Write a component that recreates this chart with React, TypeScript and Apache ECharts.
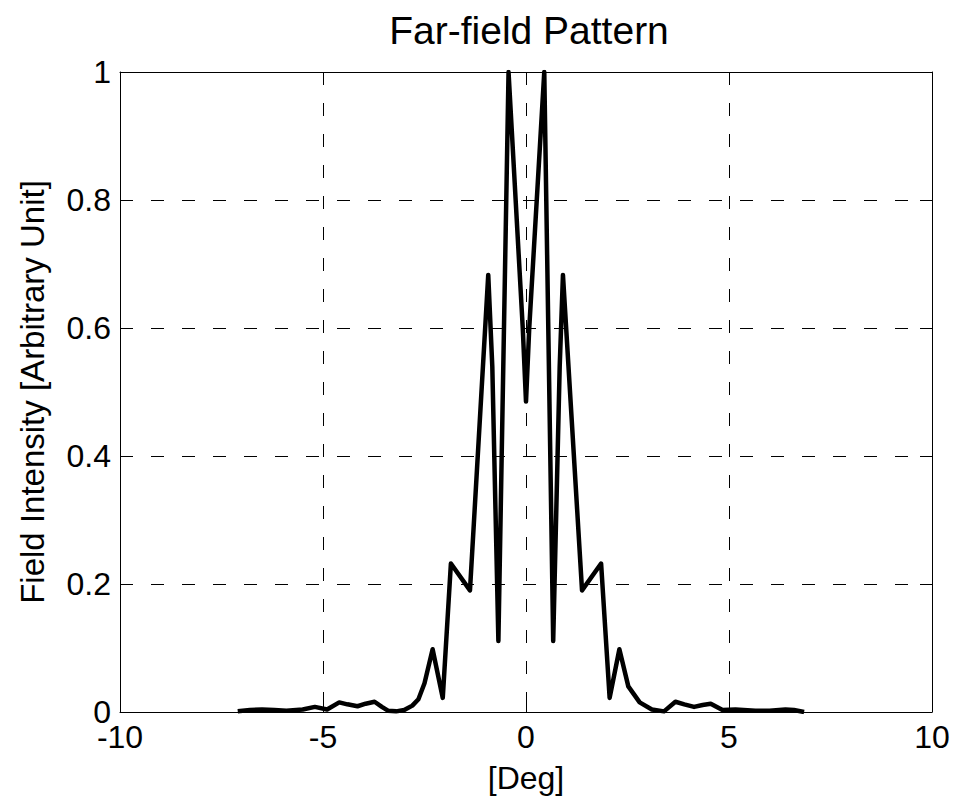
import React, { useEffect, useRef } from "react";
import * as echarts from "echarts";

const TITLE = "Far-field Pattern";
const X_NAME = "[Deg]";
const Y_NAME = "Field Intensity [Arbitrary Unit]";

const degrees = [
  -7.1, -6.8, -6.5, -6.2, -5.9, -5.5, -5.2, -4.9, -4.6, -4.4, -4.15, -3.95,
  -3.73, -3.55, -3.4, -3.2, -3.0, -2.8, -2.65, -2.5, -2.3, -2.05, -1.85,
  -1.38, -0.93, -0.83, -0.68, -0.43, -0.08, 0, 0.08, 0.45, 0.67, 0.83, 0.91,
  1.38, 1.85, 2.06, 2.3, 2.52, 2.8, 3.1, 3.4, 3.68, 3.9, 4.14, 4.35, 4.55,
  4.84, 5.16, 5.65, 6.0, 6.39, 6.6, 6.85,
];

const intensity = [
  0.001, 0.003, 0.004, 0.003, 0.002, 0.004, 0.008, 0.004, 0.015, 0.012,
  0.009, 0.013, 0.016, 0.008, 0.002, 0.001, 0.003, 0.01, 0.02, 0.045, 0.098,
  0.022, 0.232, 0.19, 0.683, 0.54, 0.111, 1.0, 0.6, 0.485, 0.6, 1.0, 0.111,
  0.54, 0.683, 0.19, 0.232, 0.022, 0.098, 0.04, 0.015, 0.004, 0.001, 0.016,
  0.012, 0.008, 0.011, 0.013, 0.003, 0.004, 0.002, 0.002, 0.004, 0.003, 0.0,
];

const FONT = "'Liberation Sans', Arial, sans-serif";

export default function App() {
  const ref = useRef<HTMLDivElement>(null);

  useEffect(() => {
    if (!ref.current) return;
    const chart = echarts.init(ref.current, undefined, { renderer: "svg" });
    const points = degrees.map((d, i) => [d, intensity[i]]);
    const splitLine = {
      show: true,
      lineStyle: { color: "#000", width: 1, type: [13, 18] as any },
    };
    const axisLine = {
      show: true,
      onZero: false,
      lineStyle: { color: "#000", width: 1 },
    };
    const axisTick = {
      show: true,
      inside: true,
      length: 12,
      lineStyle: { color: "#000", width: 1 },
    };
    chart.setOption({
      animation: false,
      backgroundColor: "#fff",
      title: {
        text: TITLE,
        left: 524,
        top: 6,
        textAlign: "center",
        textStyle: {
          fontFamily: FONT,
          fontSize: 39,
          fontWeight: "normal",
          color: "#000",
        },
      },
      grid: { left: 120, right: 21, top: 72, bottom: 91, containLabel: false },
      xAxis: [
        {
          type: "value",
          min: -10,
          max: 10,
          interval: 5,
          position: "bottom",
          axisLine,
          axisTick,
          splitLine,
          axisLabel: {
            fontFamily: FONT,
            fontSize: 32,
            lineHeight: 24,
            color: "#000",
            margin: 13,
          },
          name: X_NAME,
          nameLocation: "middle",
          nameGap: 50,
          nameTextStyle: { fontFamily: FONT, fontSize: 32, color: "#000" },
        },
        {
          type: "value",
          min: -10,
          max: 10,
          interval: 5,
          position: "top",
          axisLine,
          axisTick,
          splitLine: { show: false },
          axisLabel: { show: false },
        },
      ],
      yAxis: [
        {
          type: "value",
          min: 0,
          max: 1,
          interval: 0.2,
          position: "left",
          axisLine,
          axisTick,
          splitLine,
          axisLabel: {
            fontFamily: FONT,
            fontSize: 32,
            lineHeight: 24,
            color: "#000",
            margin: 9,
          },
          name: Y_NAME,
          nameLocation: "middle",
          nameGap: 71,
          nameTextStyle: { fontFamily: FONT, fontSize: 33, color: "#000" },
        },
        {
          type: "value",
          min: 0,
          max: 1,
          interval: 0.2,
          position: "right",
          axisLine,
          axisTick,
          splitLine: { show: false },
          axisLabel: { show: false },
        },
      ],
      series: [
        {
          type: "line",
          data: points,
          xAxisIndex: 0,
          yAxisIndex: 0,
          showSymbol: false,
          symbol: "none",
          clip: true,
          lineStyle: { color: "#000", width: 4.5, join: "round" } as any,
        },
      ],
    });
    return () => chart.dispose();
  }, []);

  return (
    <div
      ref={ref}
      style={{ position: "fixed", left: 0, top: 0, width: 953, height: 803 }}
    />
  );
}
